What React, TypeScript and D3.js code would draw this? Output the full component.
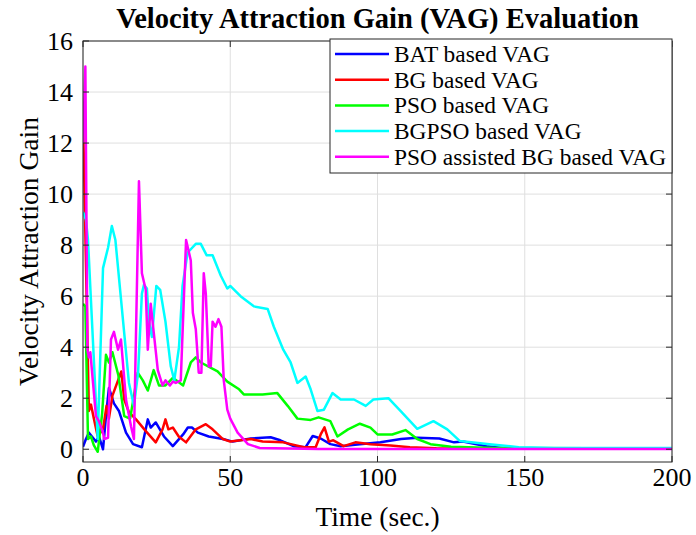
import React from "react";
import * as d3 from "d3";

const W = 696;
const H = 535;

const xTicks = [0, 50, 100, 150, 200];
const yTicks = [0, 2, 4, 6, 8, 10, 12, 14, 16];

const seriesNames = [
  "BAT based VAG",
  "BG based VAG",
  "PSO based VAG",
  "BGPSO based VAG",
  "PSO assisted BG based VAG",
];
const seriesColors = ["#0000ff", "#ff0000", "#00ff00", "#00ffff", "#ff00ff"];

const batT = [0, 1, 2, 4.4, 5.4, 6.8, 7.8, 8.8, 10.5, 12.2, 14.6, 17, 20, 22, 23, 24.7, 27.5, 30.5, 34, 35.6, 37, 39, 42.7, 47.5, 50.8, 57, 63.7, 67, 71.5, 75.6, 78, 80.7, 84, 87.5, 94, 101, 108, 113.5, 121, 126, 129, 137, 144, 160, 200];
const batV = [0.1, 0.4, 0.65, 0.3, 0.5, 0, 1.3, 2.4, 1.8, 1.5, 0.65, 0.2, 0.08, 1.17, 0.85, 1.05, 0.5, 0.12, 0.58, 0.85, 0.85, 0.65, 0.5, 0.4, 0.3, 0.42, 0.47, 0.35, 0.12, 0.08, 0.52, 0.42, 0.2, 0.12, 0.2, 0.27, 0.4, 0.45, 0.42, 0.27, 0.3, 0.12, 0.03, 0.02, 0.02];

const bgT = [0, 2, 2.7, 3.7, 5, 6.8, 8, 8.8, 10, 11.9, 13, 14, 15.6, 18, 21.4, 24.7, 27, 28, 29, 30.5, 32.5, 35, 38.3, 41.7, 44, 47.5, 50, 57, 61, 68, 75, 79, 80.7, 82, 83.5, 85, 88.5, 92.5, 97.6, 104.4, 111, 120, 140, 200];
const bgV = [13.1, 1.5, 1.75, 1.2, 0.5, 0.8, 1.7, 1.2, 2.1, 2.7, 3.05, 1.95, 1.45, 1.17, 0.7, 0.27, 0.78, 1.17, 0.78, 0.85, 0.5, 0.27, 0.78, 0.98, 0.78, 0.4, 0.3, 0.4, 0.3, 0.27, 0.08, 0.08, 0.58, 0.86, 0.3, 0.35, 0.12, 0.27, 0.2, 0.15, 0.08, 0.04, 0.02, 0.02];

const psoT = [0, 0.8, 1.7, 2.7, 3.7, 5, 6.5, 7.8, 8.8, 10, 12, 14, 16, 18.6, 20.3, 22, 24, 25.8, 28, 30.5, 34, 36.6, 38.3, 40, 45.7, 49, 53, 54.6, 61, 66, 69.5, 72.8, 77.3, 80, 84, 86.4, 90, 94, 97.6, 100, 105, 109.5, 113.5, 118, 125, 140, 200];
const psoV = [5.7, 5.6, 0.4, 0.5, 0.15, -0.1, 1.4, 3.7, 3.4, 3.8, 2.9, 1.3, 1.2, 3.0, 2.7, 2.3, 3.1, 2.5, 2.5, 2.8, 2.5, 3.4, 3.6, 3.4, 3.05, 2.65, 2.35, 2.15, 2.15, 2.2, 1.7, 1.2, 1.15, 1.25, 1.1, 0.5, 0.78, 1.0, 0.85, 0.58, 0.58, 0.75, 0.4, 0.2, 0.1, 0.05, 0.03];

const bgpsoT = [0, 1, 1.7, 5, 6.8, 8.5, 9.8, 11, 15.6, 17.3, 18.7, 20, 20.7, 21.7, 22.4, 23.4, 24.9, 26.2, 28, 29.8, 31, 32.6, 33.8, 35.5, 38.3, 40, 42, 44, 46.8, 49, 50, 53.5, 58, 62.7, 64.8, 68, 70.5, 72.8, 75.6, 77.3, 79.6, 81.8, 84.7, 87.5, 92, 96, 98.6, 103.7, 107.8, 113.5, 119, 123.7, 128, 138, 148, 160, 200];
const bgpsoV = [9.3, 9.0, 8.2, 0.4, 7.1, 7.9, 8.75, 8.2, 2.6, 1.7, 3.0, 6.1, 6.45, 6.3, 5.0, 4.4, 6.4, 6.25, 5.0, 3.25, 2.7, 4.0, 6.4, 7.7, 8.05, 8.05, 7.6, 7.6, 6.8, 6.3, 6.4, 6.0, 5.6, 5.5, 4.8, 3.9, 3.4, 2.6, 2.85, 2.35, 1.5, 1.55, 2.2, 1.95, 1.95, 1.7, 1.95, 2.0, 1.5, 0.8, 1.1, 0.78, 0.32, 0.2, 0.08, 0.05, 0.05];

const psobgT = [0, 0.8, 1.5, 2, 2.5, 3.4, 4.4, 5.4, 6.8, 7.2, 8.5, 9.5, 10.5, 11.9, 12.9, 14.6, 16.3, 17.3, 19, 20, 21.3, 22, 23, 24, 25.4, 27, 28, 29.5, 30.5, 31.5, 33.2, 35, 36.6, 37.3, 38.3, 39.3, 40.2, 41, 41.7, 42.7, 43.4, 44, 45, 46, 47, 47.8, 49, 50, 52.5, 56, 60, 80, 200];
const psobgV = [12, 15.0, 3.9, 3.6, 3.8, 2.6, 1.3, 1.1, 0.65, 0.4, 0.45, 4.3, 4.6, 3.9, 4.3, 1.95, 0.9, 0.4, 10.5, 6.9, 6.25, 3.9, 5.7, 4.6, 3.1, 2.5, 2.7, 2.5, 2.65, 2.6, 2.7, 8.2, 7.4, 5.35, 4.7, 3.0, 3.0, 6.9, 6.1, 3.25, 3.25, 5.0, 4.8, 5.1, 4.8, 2.7, 1.55, 1.2, 0.65, 0.2, 0.05, 0.01, 0.01];

const seriesT = [batT, bgT, psoT, bgpsoT, psobgT];
const seriesV = [batV, bgV, psoV, bgpsoV, psobgV];

const FONT = "'Liberation Serif', 'Times New Roman', serif";
const AX = "#262626";

export default function App() {
  const x = d3.scaleLinear().domain([0, 200]).range([83, 672]);
  const y = d3.scaleLinear().domain([-0.5, 16]).range([462, 41]);
  const [x0, x1] = x.range();
  const [yb, yt] = y.range();

  const line = d3
    .line<[number, number]>()
    .x((d) => x(d[0]))
    .y((d) => y(d[1]));

  const paths = seriesT.map((ts, i) =>
    line(ts.map((t, j) => [t, seriesV[i][j]] as [number, number]))
  );

  const legX = 330;
  const legY = 39;
  const legW = 342;
  const legH = 134;
  const rowH = 25.7;

  return (
    <svg
      width={W}
      height={H}
      style={{ position: "absolute", left: 0, top: 0, background: "#fff" }}
      fontFamily={FONT}
    >
      <rect x={0} y={0} width={W} height={H} fill="#fff" />
      <defs>
        <clipPath id="plotclip">
          <rect x={x0} y={yt} width={x1 - x0} height={yb - yt} />
        </clipPath>
      </defs>
      {/* grid */}
      {xTicks.map((t) => (
        <line key={"gx" + t} x1={x(t)} x2={x(t)} y1={yt} y2={yb} stroke="#dfdfdf" strokeWidth={1} />
      ))}
      {yTicks.map((t) => (
        <line key={"gy" + t} x1={x0} x2={x1} y1={y(t)} y2={y(t)} stroke="#dfdfdf" strokeWidth={1} />
      ))}
      {/* series */}
      <g clipPath="url(#plotclip)">
        {paths.map((p, i) => (
          <path key={i} d={p || ""} fill="none" stroke={seriesColors[i]} strokeWidth={2.5} strokeLinejoin="round" />
        ))}
      </g>
      {/* frame */}
      <rect x={x0} y={yt} width={x1 - x0} height={yb - yt} fill="none" stroke={AX} strokeWidth={1} />
      {/* ticks */}
      {xTicks.map((t) => (
        <g key={"tx" + t}>
          <line x1={x(t)} x2={x(t)} y1={yb} y2={yb - 6} stroke={AX} />
          <line x1={x(t)} x2={x(t)} y1={yt} y2={yt + 6} stroke={AX} />
          <text x={x(t)} y={yb + 6} textAnchor="middle" dominantBaseline="hanging" fontSize={26} fill="#000">
            {t}
          </text>
        </g>
      ))}
      {yTicks.map((t) => (
        <g key={"ty" + t}>
          <line x1={x0} x2={x0 + 6} y1={y(t)} y2={y(t)} stroke={AX} />
          <line x1={x1} x2={x1 - 6} y1={y(t)} y2={y(t)} stroke={AX} />
          <text x={x0 - 10} y={y(t)} textAnchor="end" dominantBaseline="central" fontSize={26} fill="#000">
            {t}
          </text>
        </g>
      ))}
      {/* labels */}
      <text x={(x0 + x1) / 2} y={28} textAnchor="middle" fontSize={28.5} fontWeight="bold" fill="#000">
        Velocity Attraction Gain (VAG) Evaluation
      </text>
      <text x={(x0 + x1) / 2} y={526} textAnchor="middle" fontSize={27.5} fill="#000">
        Time (sec.)
      </text>
      <text
        transform={`translate(38, ${(yt + yb) / 2}) rotate(-90)`}
        textAnchor="middle"
        fontSize={27.5}
        fill="#000"
      >
        Velocity Attraction Gain
      </text>
      {/* legend */}
      <rect x={legX} y={legY} width={legW} height={legH} fill="#fff" stroke={AX} strokeWidth={1} />
      {seriesNames.map((n, i) => {
        const ry = legY + 15 + i * rowH;
        return (
          <g key={"lg" + i}>
            <line x1={legX + 5} x2={legX + 59} y1={ry} y2={ry} stroke={seriesColors[i]} strokeWidth={2.5} />
            <text x={legX + 64} y={ry} dominantBaseline="central" fontSize={23.4} fill="#000">
              {n}
            </text>
          </g>
        );
      })}
    </svg>
  );
}
